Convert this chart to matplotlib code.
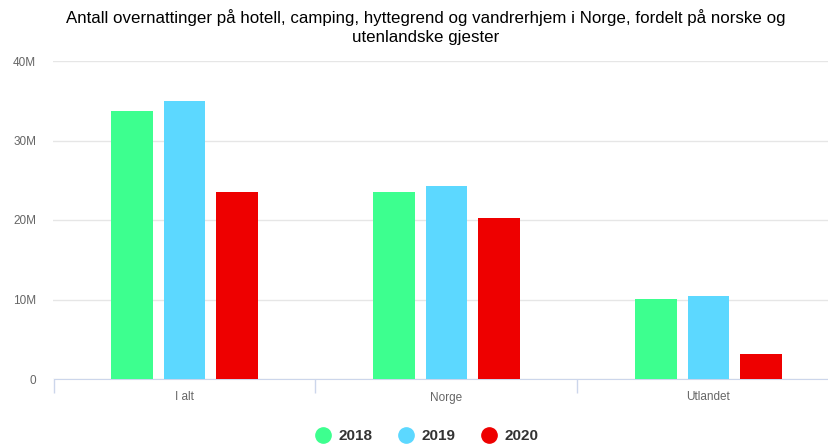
import matplotlib
matplotlib.use("Agg")
import matplotlib.pyplot as plt
import numpy as np
from matplotlib.ticker import FuncFormatter, FixedLocator
from matplotlib.lines import Line2D

plt.rcParams['font.family'] = ['Liberation Sans', 'DejaVu Sans']

categories = ["I alt", "Norge", "Utlandet"]
years = ["2018", "2019", "2020"]
values_2018 = [33.7, 23.5, 10.1]
values_2019 = [35.0, 24.3, 10.4]
values_2020 = [23.5, 20.3, 3.1]
colors = ["#3dff8f", "#5cd8ff", "#ee0000"]

fig = plt.figure(figsize=(8.29, 4.46), dpi=100)
ax = fig.add_axes([53.5/829, 1-379/446, 786/829, (379-61)/446])

x = np.arange(len(categories))
width = 0.16
pitch = 0.2
for i, (vals, c) in enumerate(zip([values_2018, values_2019, values_2020], colors)):
    ax.bar(x + (i-1)*pitch, vals, width=width, color=c, zorder=3)

ax.set_xlim(-0.5, 2.5)
ax.set_ylim(0, 40)
ax.set_yticks([0, 10, 20, 30, 40])
ax.yaxis.set_major_formatter(FuncFormatter(lambda v, p: "0" if v == 0 else f"{int(v)}M"))
ax.grid(axis='y', color='#e6e6e6', linewidth=1, zorder=0)
for s in ['top', 'right', 'left']:
    ax.spines[s].set_visible(False)
ax.spines['bottom'].set_color('#ccd6eb')
ax.tick_params(axis='y', length=0, labelsize=8.5, labelcolor='#666666', pad=12.5)
ax.set_xticks(x)
ax.set_xticklabels(categories)
ax.tick_params(axis='x', length=0, labelsize=8.5, labelcolor='#666666', pad=9)
ax.xaxis.set_minor_locator(FixedLocator([-0.5, 0.5, 1.5, 2.5]))
ax.tick_params(axis='x', which='minor', length=10, color='#ccd6eb', width=1)

fig.text(426/829, 1-27/446, "Antall overnattinger på hotell, camping, hyttegrend og vandrerhjem i Norge, fordelt på norske og\nutenlandske gjester",
         ha='center', va='center', fontsize=12.2, color='#000000', linespacing=1.3)

handles = [Line2D([0], [0], marker='o', linestyle='', markersize=11, markerfacecolor=c, markeredgecolor=c) for c in colors]
leg = fig.legend(handles, years, loc='center', bbox_to_anchor=(427/829, 1-436/446), ncol=3, frameon=False,
                 prop={'weight': 'bold', 'size': 11}, handlelength=1.0, handletextpad=0.55, columnspacing=1.65)
for t in leg.get_texts():
    t.set_color('#333333')

fig.savefig("out.png", dpi=100)
